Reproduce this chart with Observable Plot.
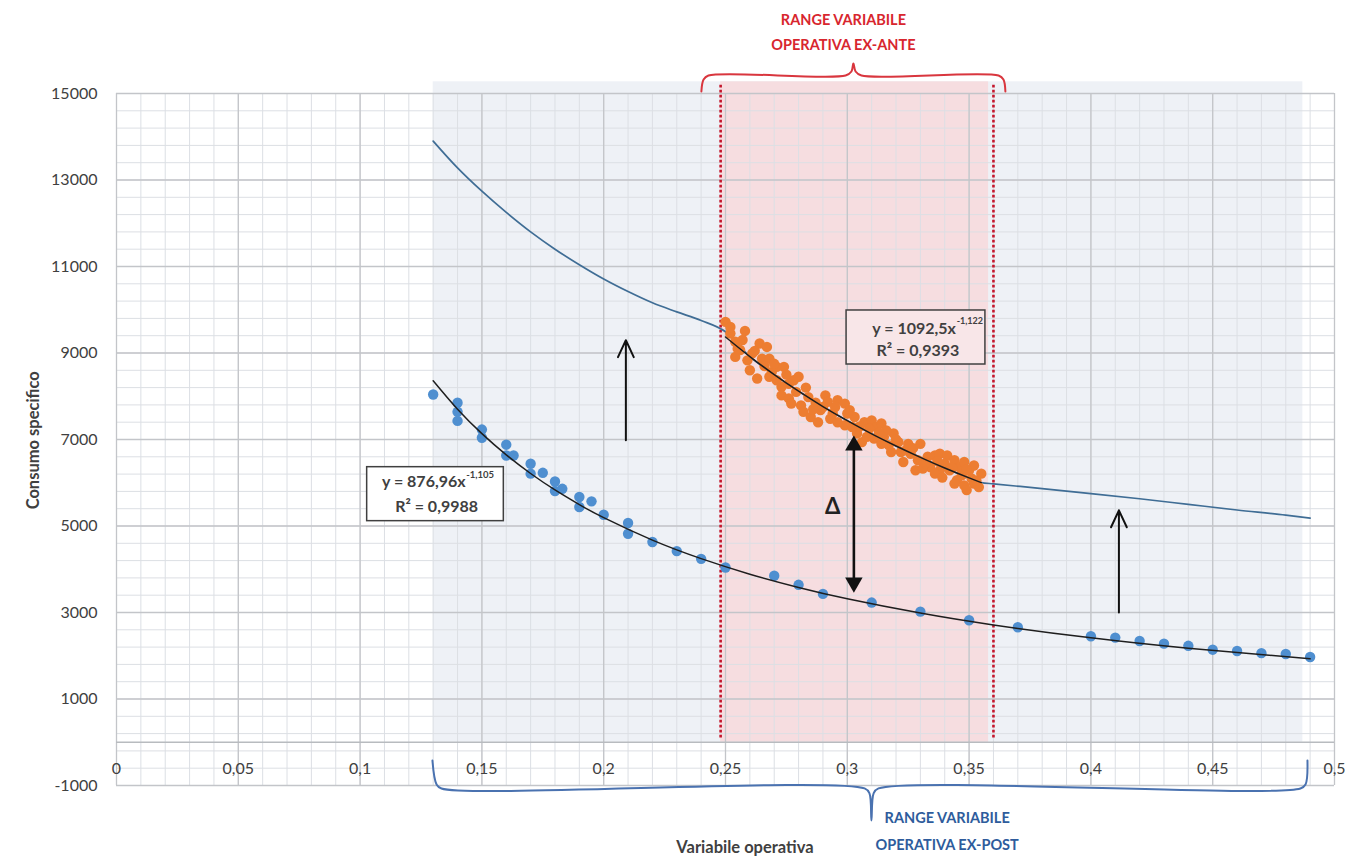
<!DOCTYPE html>
<html><head><meta charset="utf-8">
<script src="https://cdn.jsdelivr.net/npm/d3@7"></script>
<script src="https://cdn.jsdelivr.net/npm/@observablehq/plot@0.6"></script>
<style>html,body{margin:0;padding:0;background:#fff;} #chart svg{display:block;}</style>
</head><body><div id="chart"></div>
<script>
// ---- ticks ----
const xTicks = [0, 0.05, 0.1, 0.15, 0.2, 0.25, 0.3, 0.35, 0.4, 0.45, 0.5];
const xTickLabels = ["0", "0,05", "0,1", "0,15", "0,2", "0,25", "0,3", "0,35", "0,4", "0,45", "0,5"];
const yTicks = [-1000, 1000, 3000, 5000, 7000, 9000, 11000, 13000, 15000];

// ---- ex-post data (blue) ----
const postX = [0.13,0.14,0.14,0.14,0.15,0.15,0.16,0.16,0.163,0.17,0.17,0.175,0.18,0.18,0.183,0.19,0.19,0.195,0.20,0.21,0.21,0.22,0.23,0.24,0.25,0.27,0.28,0.29,0.31,0.33,0.35,0.37,0.40,0.41,0.42,0.43,0.44,0.45,0.46,0.47,0.48,0.49];
const postY = [8040,7850,7640,7430,7230,7040,6880,6630,6630,6440,6210,6230,6030,5810,5860,5670,5440,5570,5260,5070,4820,4630,4420,4240,4040,3850,3640,3430,3230,3020,2820,2660,2450,2420,2340,2280,2230,2140,2110,2060,2040,1970];

// ex-post trend line (y = 876,96x^-1,105), read at these x
const postFitX = [0.13,0.14,0.15,0.16,0.17,0.18,0.19,0.20,0.22,0.24,0.26,0.28,0.30,0.33,0.36,0.40,0.44,0.49];
const postFitY = [8358,7700,7135,6644,6214,5834,5495,5192,4673,4245,3886,3580,3318,2986,2712,2414,2173,1929];

// ---- ex-ante data (orange) ----
const anteX = [0.250,0.252,0.258,0.254,0.254,0.256,0.260,0.264,0.265,0.263,0.268,0.269,0.271,0.274,0.268,0.273,0.273,0.276,0.278,0.280,0.277,0.281,0.282,0.285,0.288,0.284,0.287,0.291,0.292,0.294,0.296,0.299,0.301,0.303,0.299,0.304,0.306,0.307,0.310,0.312,0.314,0.308,0.311,0.315,0.317,0.319,0.321,0.322,0.318,0.325,0.326,0.330,0.329,0.323,0.328,0.333,0.334,0.336,0.338,0.341,0.340,0.338,0.344,0.346,0.348,0.350,0.345,0.348,0.349,0.352,0.355,0.354,0.344,0.352,0.252,0.255,0.259,0.261,0.267,0.271,0.276,0.279,0.289,0.293,0.296,0.302,0.314,0.316,0.331,0.336,0.342,0.347,0.351,
  0.257,0.262,0.266,0.270,0.275,0.283,0.286,0.290,0.295,0.300,0.305,0.309,0.313,0.320,0.324,0.327,0.332,0.337,0.343,0.349,0.353,0.339];
const anteY = [9720,9450,9510,9260,8910,9070,8600,9220,8870,8410,8870,8560,8680,8680,8450,8220,8020,7950,8370,8450,7830,7790,7640,7520,7400,7980,7850,8020,7870,7600,7910,7830,7680,7520,7330,7140,6940,7400,7440,7290,7370,7060,7020,7060,6870,7140,6940,6710,6710,6900,6670,6900,6520,6480,6290,6600,6360,6630,6670,6630,6440,6290,6520,6360,6480,6290,6060,5940,5830,5980,6210,5900,5980,6400,9600,9100,8830,8990,9140,8370,8290,8100,7680,7480,7400,7290,6900,7210,6330,6210,6290,6170,6100,
  9300,9050,8700,8750,8500,8200,7700,7750,7750,7600,7300,7250,7150,7000,6750,6800,6450,6500,6350,6300,6050,6120];

// ex-ante trend line (black)
const anteFitX = [0.25,0.26,0.27,0.28,0.29,0.30,0.31,0.32,0.33,0.34,0.35,0.355];
const anteFitY = [9370,8917,8500,8116,7762,7435,7131,6850,6588,6342,6113,6004];

// ex-ante curve projected over the whole range (steel blue)
const projX = [0.13,0.14,0.15,0.16,0.17,0.18,0.19,0.20,0.21,0.22,0.23,0.24,0.25,0.26,0.27,0.28,0.29,0.30,0.31,0.32,0.33,0.34,0.35,0.355,0.36,0.38,0.40,0.42,0.44,0.46,0.48,0.49];
const projY = [13900,13280,12740,12250,11800,11400,11040,10710,10420,10160,9950,9750,9490,8917,8500,8116,7762,7435,7131,6850,6588,6342,6113,6004,5975,5865,5750,5630,5500,5370,5250,5180];

// ---- annotation texts ----
const eqAnte = ["y = 1092,5x", "-1,122", "R² = 0,9393"];
const eqPost = ["y = 876,96x", "-1,105", "R² = 0,9988"];
const anteLabel = ["RANGE VARIABILE", "OPERATIVA EX-ANTE"];
const postLabel = ["RANGE VARIABILE", "OPERATIVA EX-POST"];
const xTitle = "Variabile operativa";
const yTitle = "Consumo specifico";

// build tables
const post = postX.map((x, i) => ({x, y: postY[i]}));
const ante = anteX.map((x, i) => ({x, y: anteY[i]}));
const postFit = postFitX.map((x, i) => ({x, y: postFitY[i]}));
const anteFit = anteFitX.map((x, i) => ({x, y: anteFitY[i]}));
const proj = projX.map((x, i) => ({x, y: projY[i]}));

// brace geometry (data units)
const redBrace = [[0.2401,15046],[0.2410,15324],[0.2430,15416],[0.2993,15416],[0.3017,15509],[0.3025,15694],[0.3034,15509],[0.3058,15416],[0.3621,15416],[0.3641,15324],[0.3649,15046]];
const blueBrace = [[0.1297,-421],[0.1314,-976],[0.1334,-1068],[0.3071,-1068],[0.3091,-1184],[0.3099,-1808],[0.3108,-1184],[0.3128,-1068],[0.4860,-1068],[0.4881,-976],[0.4889,-421]];

const font = "Lato, 'Open Sans', sans-serif";
const txt = "#404040";

const plot = Plot.plot({
  width: 1345, height: 858,
  marginLeft: 116, marginRight: 11, marginTop: 93, marginBottom: 73,
  x: {domain: [0, 0.5], axis: null},
  y: {domain: [-1000, 15000], axis: null},
  style: {background: "transparent", fontFamily: font, overflow: "visible"},
  marks: [
    // shaded ranges
    Plot.rect([{x1: 0.13, x2: 0.487, y1: 0, y2: 15270}], {x1: "x1", x2: "x2", y1: "y1", y2: "y2", fill: "#eef1f6"}),
    Plot.rect([{x1: 0.248, x2: 0.358, y1: 0, y2: 15270}], {x1: "x1", x2: "x2", y1: "y1", y2: "y2", fill: "#f6dde0"}),
    // minor grid
    Plot.ruleX(d3.range(0, 0.5001, 0.01), {stroke: "#dcdfe4", strokeWidth: 1}),
    Plot.ruleY(d3.range(-1000, 15001, 400), {stroke: "#dcdfe4", strokeWidth: 1}),
    // major grid
    Plot.ruleX(xTicks, {stroke: "#c3c5c9", strokeWidth: 1.3}),
    Plot.ruleY(yTicks, {stroke: "#c3c5c9", strokeWidth: 1.3}),
    Plot.ruleY([0], {stroke: "#b8bbbf", strokeWidth: 1.6}),
    // red dotted limits
    Plot.ruleX([0.248, 0.36], {y1: 100, y2: 15200, stroke: "#c4162c", strokeWidth: 2.6, strokeDasharray: "2.6,2.4"}),
    // projected curve
    Plot.line(proj, {x: "x", y: "y", stroke: "#3f6d95", strokeWidth: 1.7, curve: "monotone-x"}),
    // data points
    Plot.dot(ante, {x: "x", y: "y", r: 5.2, fill: "#ed7d31"}),
    Plot.dot(post, {x: "x", y: "y", r: 5.2, fill: "#4f8fd0"}),
    // trend lines
    Plot.line(postFit, {x: "x", y: "y", stroke: "#1e1e1e", strokeWidth: 1.5, curve: "natural"}),
    Plot.line(anteFit, {x: "x", y: "y", stroke: "#1e1e1e", strokeWidth: 1.5, curve: "natural"}),
    // equation boxes
    Plot.rect([{x1: 0.2997, x2: 0.3567, y1: 8734, y2: 9983}], {x1: "x1", x2: "x2", y1: "y1", y2: "y2", fill: "#f8e6e8", stroke: "#404040", strokeWidth: 1.5}),
    Plot.rect([{x1: 0.1029, x2: 0.1590, y1: 5112, y2: 6360}], {x1: "x1", x2: "x2", y1: "y1", y2: "y2", fill: "#ffffff", stroke: "#404040", strokeWidth: 1.5}),
    Plot.text([eqAnte[0]], {x: 0.3446, y: 9567, text: d => d, textAnchor: "end", fontSize: 16, fontWeight: "bold", fill: txt}),
    Plot.text([eqAnte[1]], {x: 0.3449, y: 9567, dy: -7, text: d => d, textAnchor: "start", fontSize: 9, fontWeight: "bold", fill: txt}),
    Plot.text([eqAnte[2]], {x: 0.3290, y: 9058, text: d => d, textAnchor: "middle", fontSize: 16, fontWeight: "bold", fill: txt}),
    Plot.text([eqPost[0]], {x: 0.1433, y: 6013, text: d => d, textAnchor: "end", fontSize: 16, fontWeight: "bold", fill: txt}),
    Plot.text([eqPost[1]], {x: 0.1436, y: 6013, dy: -7, text: d => d, textAnchor: "start", fontSize: 9.5, fontWeight: "bold", fill: txt}),
    Plot.text([eqPost[2]], {x: 0.1314, y: 5452, text: d => d, textAnchor: "middle", fontSize: 16, fontWeight: "bold", fill: txt}),
    // arrows
    Plot.arrow([{x: 0.2091, y1: 6982, y2: 9296}], {x1: "x", x2: "x", y1: "y1", y2: "y2", stroke: "#111", strokeWidth: 2, headLength: 14, headAngle: 50}),
    Plot.arrow([{x: 0.4115, y1: 3002, y2: 5362}], {x1: "x", x2: "x", y1: "y1", y2: "y2", stroke: "#111", strokeWidth: 2, headLength: 14, headAngle: 50}),
    Plot.ruleX([0.3027], {y1: 3700, y2: 6850, stroke: "#111", strokeWidth: 2.6}),
    Plot.dot([0.3027], {x: d => d, y: 6860, symbol: "triangle", r: 6.5, fill: "#111"}),
    Plot.dot([0.3027], {x: d => d, y: 3690, symbol: "triangle", rotate: 180, r: 6.5, fill: "#111"}),
    Plot.text(["Δ"], {x: 0.294, y: 5438, text: d => d, fontSize: 22, fontWeight: "bold", fill: "#222"}),
    // braces
    Plot.line(redBrace, {x: d => d[0], y: d => d[1], stroke: "#d9363e", strokeWidth: 2, curve: "catmull-rom"}),
    Plot.line(blueBrace, {x: d => d[0], y: d => d[1], stroke: "#4a72b0", strokeWidth: 2, curve: "catmull-rom"}),
    Plot.text(anteLabel, {x: 0.2984, y: (d, i) => i === 0 ? 16688 : 16110, text: d => d, fontSize: 14.5, fontWeight: "bold", fill: "#d8262e"}),
    Plot.text(postLabel, {x: 0.3410, y: (d, i) => i === 0 ? -1762 : -2386, text: d => d, fontSize: 14.5, fontWeight: "bold", fill: "#2e5c9c"}),
    // axes
    Plot.axisY({ticks: yTicks, tickSize: 0, tickPadding: 19, tickFormat: d => String(d), fontSize: 16, fill: txt, label: null}),
    Plot.text(xTicks, {x: d => d, y: -620, text: (d, i) => xTickLabels[i], fontSize: 16, fill: txt}),
    Plot.text([xTitle], {x: 0.258, y: -2432, text: d => d, fontSize: 16.5, fontWeight: "bold", fill: txt}),
    Plot.text([yTitle], {x: -0.0339, y: 6982, text: d => d, rotate: -90, fontSize: 16.5, fontWeight: "bold", fill: txt})
  ]
});
document.getElementById("chart").append(plot);
</script>
</body></html>
